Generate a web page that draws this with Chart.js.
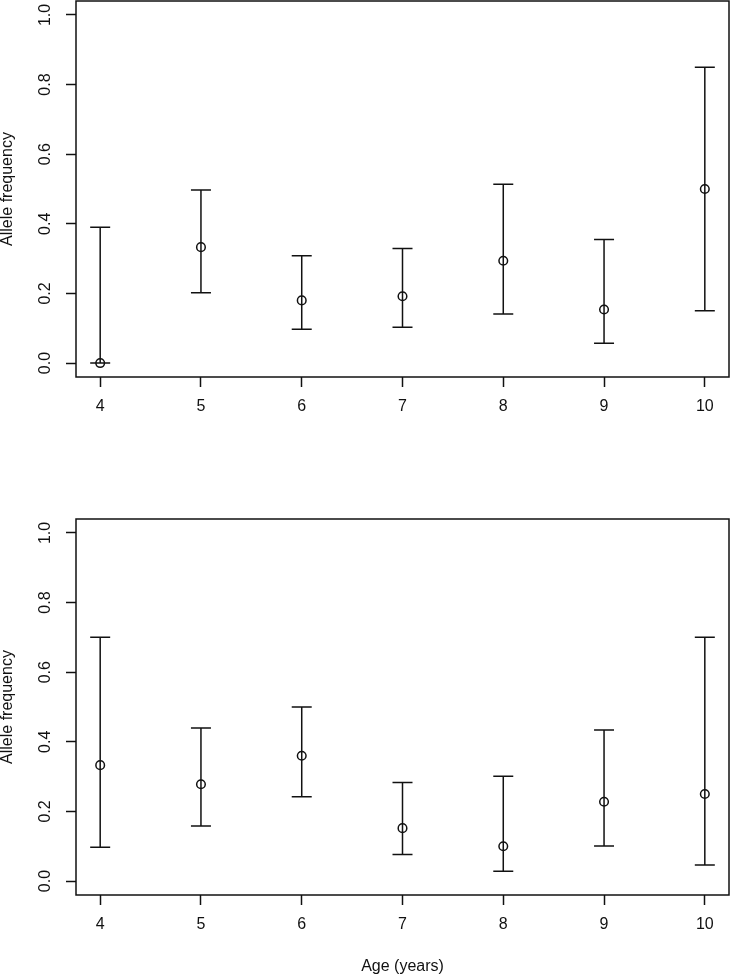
<!DOCTYPE html>
<html>
<head>
<meta charset="utf-8">
<script src="https://cdn.jsdelivr.net/npm/chart.js@4/dist/chart.umd.min.js"></script>
<style>
  body { margin: 0; background: #fff; }
  canvas { position: absolute; left: 0; }
  #top-panel { top: 0; }
  #bottom-panel { top: 487px; }
</style>
</head>
<body>
<canvas id="top-panel" width="730" height="487"></canvas>
<canvas id="bottom-panel" width="730" height="488"></canvas>
<script>
const ages = [4, 5, 6, 7, 8, 9, 10];

// upper panel
const topFreq  = [0.000, 0.333, 0.180, 0.192, 0.294, 0.154, 0.500];
const topLower = [0.000, 0.202, 0.097, 0.103, 0.141, 0.057, 0.150];
const topUpper = [0.390, 0.497, 0.308, 0.329, 0.514, 0.355, 0.850];

// lower panel
const bottomFreq  = [0.333, 0.278, 0.360, 0.152, 0.100, 0.228, 0.250];
const bottomLower = [0.097, 0.158, 0.242, 0.076, 0.028, 0.101, 0.046];
const bottomUpper = [0.700, 0.440, 0.500, 0.283, 0.301, 0.434, 0.700];

const xTicks = [4, 5, 6, 7, 8, 9, 10];
const yTicks = [0, 0.2, 0.4, 0.6, 0.8, 1.0];
const yTickLabels = ['0.0', '0.2', '0.4', '0.6', '0.8', '1.0'];

const FONT = "'Liberation Sans', Arial, Helvetica, sans-serif";
const INK = '#111';

// vertical whiskers with flat caps
const errorBars = {
  id: 'errorBars',
  beforeDatasetsDraw(chart, args, opts) {
    const { ctx, scales: { x, y } } = chart;
    ctx.save();
    ctx.strokeStyle = INK;
    ctx.lineWidth = 1.5;
    opts.lower.forEach((lo, i) => {
      const px = x.getPixelForValue(ages[i]);
      const yLo = y.getPixelForValue(lo);
      const yHi = y.getPixelForValue(opts.upper[i]);
      ctx.beginPath();
      ctx.moveTo(px, yLo); ctx.lineTo(px, yHi);
      ctx.moveTo(px - 10, yLo); ctx.lineTo(px + 10, yLo);
      ctx.moveTo(px - 10, yHi); ctx.lineTo(px + 10, yHi);
      ctx.stroke();
    });
    ctx.restore();
  }
};

// R style box around the plot region
const plotBox = {
  id: 'plotBox',
  afterDraw(chart) {
    const { ctx, chartArea: a } = chart;
    ctx.save();
    ctx.strokeStyle = INK;
    ctx.lineWidth = 1.5;
    ctx.strokeRect(a.left, a.top, a.right - a.left, a.bottom - a.top);
    ctx.restore();
  }
};

function makePanel(id, freq, lower, upper, padTop, axisHeight, xTitle) {
  const ctx = document.getElementById(id);
  return new Chart(ctx, {
    type: 'scatter',
    data: {
      datasets: [{
        data: ages.map((a, i) => ({ x: a, y: freq[i] })),
        pointStyle: 'circle',
        pointRadius: 4.3,
        pointHoverRadius: 4.3,
        borderWidth: 1.5,
        borderColor: INK,
        backgroundColor: 'rgba(0,0,0,0)',
        showLine: false
      }]
    },
    options: {
      responsive: false,
      devicePixelRatio: 1,
      animation: false,
      events: [],
      layout: { autoPadding: false, padding: { top: padTop, right: 1, bottom: 0, left: 0 } },
      plugins: {
        legend: { display: false },
        tooltip: { enabled: false },
        errorBars: { lower: lower, upper: upper }
      },
      scales: {
        x: {
          type: 'linear',
          min: 3.76,
          max: 10.24,
          border: { display: false },
          grid: { drawOnChartArea: false, drawTicks: true, tickLength: 10, tickWidth: 1.5, tickColor: INK },
          ticks: {
            padding: 10,
            color: INK,
            font: { family: FONT, size: 16 },
            maxRotation: 0,
            callback: (v, i) => String(xTicks[i])
          },
          title: {
            display: !!xTitle,
            text: xTitle || '',
            color: INK,
            font: { family: FONT, size: 16, lineHeight: 1 },
            padding: 0
          },
          afterBuildTicks: s => { s.ticks = xTicks.map(v => ({ value: v })); },
          afterFit: s => { s.height = axisHeight; s.paddingLeft = 0; s.paddingRight = 0; }
        },
        y: {
          type: 'linear',
          min: -0.04,
          max: 1.04,
          border: { display: false },
          grid: { drawOnChartArea: false, drawTicks: true, tickLength: 10, tickWidth: 1.5, tickColor: INK },
          ticks: {
            padding: 9,
            color: INK,
            font: { family: FONT, size: 16 },
            minRotation: 90,
            maxRotation: 90,
            crossAlign: 'center',
            callback: (v, i) => yTickLabels[i]
          },
          title: {
            display: true,
            text: 'Allele frequency',
            color: INK,
            font: { family: FONT, size: 16, lineHeight: 1 },
            padding: 0
          },
          afterBuildTicks: s => { s.ticks = yTicks.map(v => ({ value: v })); },
          afterFit: s => { s.width = 76; s.paddingTop = 0; s.paddingBottom = 0; }
        }
      }
    },
    plugins: [errorBars, plotBox]
  });
}

makePanel('top-panel', topFreq, topLower, topUpper, 1, 110, null);
makePanel('bottom-panel', bottomFreq, bottomLower, bottomUpper, 32, 80, 'Age (years)');
</script>
</body>
</html>
